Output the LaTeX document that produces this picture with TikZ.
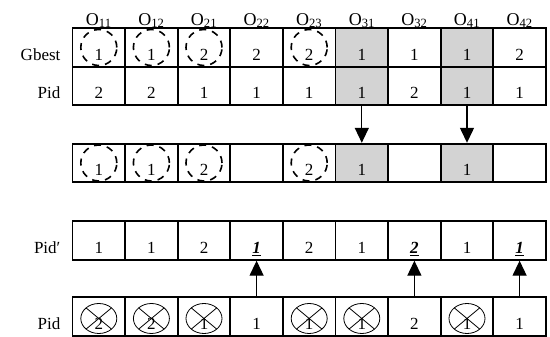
\documentclass[tikz,border=0pt]{standalone}
\usepackage{fontspec}
\setmainfont{Liberation Serif}
\usepackage{tikz}
\usetikzlibrary{arrows.meta}
\definecolor{grigio}{HTML}{D3D3D3}

\begin{document}
\begin{tikzpicture}[x=1pt,y=1pt,
    cella/.style={draw, line width=1.8pt, minimum width=52.6pt, minimum height=38.6pt,
        inner sep=0pt, text height=26pt, text depth=0pt, font=\fontsize{17}{20}\selectfont},
    etichetta/.style={inner sep=0pt, font=\fontsize{17}{20}\selectfont},
    testa/.style={inner sep=0pt, font=\fontsize{18}{20}\selectfont},
    cerchio/.style={line width=1.6pt, dash pattern=on 7pt off 6pt},
    croce/.style={line width=0.8pt},
    freccia/.style={line width=1.3pt, -{Triangle[width=14pt,length=15pt]}}]
    \useasboundingbox (0,0) rectangle (550,337);
    \def\w{52.6}
    \def\x{72.5}
    \newcommand{\sott}[1]{\underline{\textbf{\textit{#1}}}}
    % Gbest
    \foreach \v [count=\c] in {1,1,2,2,2,1,1,1,2}{
        \ifnum\c=6 \def\fc{grigio}\else\ifnum\c=8 \def\fc{grigio}\else\def\fc{white}\fi\fi
        \node[cella, fill=\fc] (g\c) at ({\x+(\c-0.5)*\w},289.5) {\v};
    }
    % Pid
    \foreach \v [count=\c] in {2,2,1,1,1,1,2,1,1}{
        \ifnum\c=6 \def\fc{grigio}\else\ifnum\c=8 \def\fc{grigio}\else\def\fc{white}\fi\fi
        \node[cella, fill=\fc] (p\c) at ({\x+(\c-0.5)*\w},251) {\v};
    }
    % riga intermedia
    \foreach \v [count=\c] in {1,1,2,{},2,1,{},1,{}}{
        \ifnum\c=6 \def\fc{grigio}\else\ifnum\c=8 \def\fc{grigio}\else\def\fc{white}\fi\fi
        \node[cella, fill=\fc] (m\c) at ({\x+(\c-0.5)*\w},174) {\v};
    }
    % Pid'
    \foreach \v [count=\c] in {1,1,2,\sott{1},2,1,\sott{2},1,\sott{1}}
        \node[cella, fill=white] (q\c) at ({\x+(\c-0.5)*\w},96.5) {\v};
    % Pid finale
    \foreach \v [count=\c] in {2,2,1,1,1,1,2,1,1}
        \node[cella, fill=white] (r\c) at ({\x+(\c-0.5)*\w},20.5) {\v};
    % intestazioni
    \foreach \t [count=\c] in {11,12,21,22,23,31,32,41,42}
        \node[testa, anchor=base] (o\c) at ([yshift=2pt]g\c.north) {O\textsubscript{\t}};
    % etichette righe
    \node[etichetta, anchor=base east] (lg) at ([xshift=-11pt]g1.base west) {Gbest};
    \node[etichetta, anchor=base east] (lp) at ([xshift=-11pt]p1.base west) {Pid};
    \node[etichetta, anchor=base east] (lq) at ([xshift=-11pt]q1.base west) {Pid′};
    \node[etichetta, anchor=base east] (lr) at ([xshift=-11pt]r1.base west) {Pid};
    % cerchi tratteggiati
    \foreach \c in {1,2,3,5}{
        \draw[cerchio] (g\c.center) circle (18pt);
        \draw[cerchio] (m\c.center) circle (18pt);
    }
    % cerchi barrati
    \foreach \c in {1,2,3,5,6,8}{
        \coordinate (e\c) at ([yshift=-2pt]r\c.center);
        \draw[croce] (e\c) ellipse (18pt and 15pt);
        \draw[croce] ([shift={(-12.7pt,10.6pt)}]e\c) -- ([shift={(12.7pt,-10.6pt)}]e\c);
        \draw[croce] ([shift={(-12.7pt,-10.6pt)}]e\c) -- ([shift={(12.7pt,10.6pt)}]e\c);
    }
    % frecce
    \draw[freccia] (p6) -- (m6);
    \draw[freccia] (p8) -- (m8);
    \foreach \c in {4,7,9}
        \draw[freccia] (r\c) -- (q\c);
\end{tikzpicture}
\end{document}
